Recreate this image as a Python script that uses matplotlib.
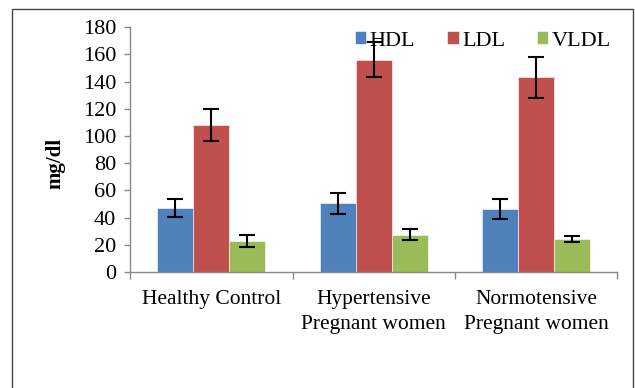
import numpy as np
import matplotlib
matplotlib.use('Agg')
import matplotlib.pyplot as plt
from matplotlib.patches import Rectangle

# values
groups = ['Healthy Control', 'Hypertensive\nPregnant women', 'Normotensive\nPregnant women']
series = ['HDL', 'LDL', 'VLDL']
hdl = [47, 50.5, 46.5]
ldl = [108, 156, 143]
vldl = [23, 27.5, 24]
hdl_err = [6.5, 7.5, 7.5]
ldl_err = [12, 13, 15]
vldl_err = [4.3, 4, 2.2]

colors = ['#4F81BD', '#C0504D', '#9BBB59']

plt.rcParams['font.family'] = ['Liberation Serif', 'DejaVu Serif']

fig = plt.figure(figsize=(6.35, 3.88), dpi=100)
ax = fig.add_axes([0.205, 0.299, 0.767, 0.631])

# outer chart border
fig.patches.append(Rectangle((12 / 635, -0.05), 621 / 635, 1.05 - 9 / 388,
                             transform=fig.transFigure, fill=False,
                             edgecolor='#444444', linewidth=1.0))

x = np.arange(len(groups))
w = 0.222
vals = [hdl, ldl, vldl]
errs = [hdl_err, ldl_err, vldl_err]
for i, (v, e) in enumerate(zip(vals, errs)):
    ax.bar(x + (i - 1) * w, v, w, color=colors[i], edgecolor='white',
           linewidth=0.4, label=series[i], zorder=2)
    ax.errorbar(x + (i - 1) * w, v, yerr=e, fmt='none', ecolor='black',
                elinewidth=1.5, capsize=6, capthick=1.5, zorder=3)

ax.set_xlim(-0.5, 2.5)
ax.set_ylim(0, 180)
ax.set_yticks(range(0, 181, 20))
ax.set_xticks(x)
ax.set_xticklabels(groups, fontsize=15.5, linespacing=1.42)
ax.set_xticks([-0.5, 0.5, 1.5, 2.5], minor=True)
ax.tick_params(axis='x', which='major', length=0, pad=13)
ax.tick_params(axis='x', which='minor', length=5, color='#888888', width=1)
ax.tick_params(axis='y', length=4, color='#888888', width=1, labelsize=16, pad=6)

for s in ['top', 'right']:
    ax.spines[s].set_visible(False)
for s in ['left', 'bottom']:
    ax.spines[s].set_color('#888888')
    ax.spines[s].set_linewidth(1)

ax.set_ylabel('mg/dl', fontsize=15, fontweight='bold')
ax.yaxis.set_label_coords(-0.133, 0.445)

fig.legend(loc='center', bbox_to_anchor=(483 / 635, 1 - 41 / 388), ncol=3,
           frameon=False, fontsize=16, handlelength=0.5, handleheight=0.5,
           handletextpad=0.15, columnspacing=1.45, borderpad=0)

fig.savefig('out.png', dpi=100)
